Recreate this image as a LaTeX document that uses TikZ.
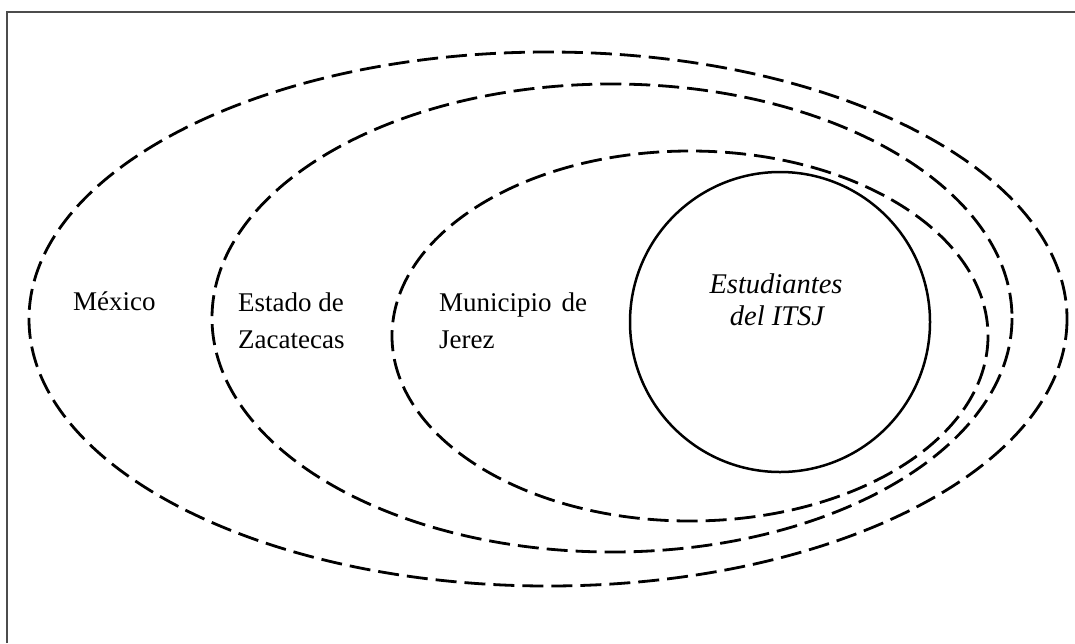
\documentclass[tikz,border=0pt]{standalone}
\usepackage{fontspec}
\setmainfont{Liberation Serif}
\begin{document}
\begin{tikzpicture}[x=1pt,y=-1pt,
  ring/.style={draw=black,line width=2.8pt,dash pattern=on 21pt off 8pt},
  core/.style={draw=black,line width=2.5pt},
  lbl/.style={font=\fontsize{27}{32}\selectfont,inner sep=0pt,anchor=base west},
  ilbl/.style={font=\fontsize{28.5}{32}\selectfont\itshape,inner sep=0pt,anchor=base},
  frame/.style={draw=black!70,line width=1.4pt}]
\useasboundingbox (0,0) rectangle (1075,643);
\draw[frame] (7,643) -- (7,12) -- (1075,12);
\draw[ring] (548,319) ellipse [x radius=519, y radius=267];
\draw[ring] (612,318) ellipse [x radius=400, y radius=234];
\draw[ring] (690,336) ellipse [x radius=298, y radius=185];
\node[core,circle,minimum size=300pt,inner sep=0pt] (itsj) at (780,322) {};
\node[lbl] (mex) at (73,310) {México};
\node[lbl] (zac1) at (238,311) {Estado de};
\node[lbl] (zac2) at (238,348) {Zacatecas};
\node[lbl] (jer1) at (439,311) {\makebox[148pt][s]{Municipio de}};
\node[lbl] (jer2) at (439,348) {Jerez};
\node[ilbl] (est1) at (776,293) {Estudiantes};
\node[ilbl] (est2) at (777,325) {del ITSJ};
\end{tikzpicture}
\end{document}
